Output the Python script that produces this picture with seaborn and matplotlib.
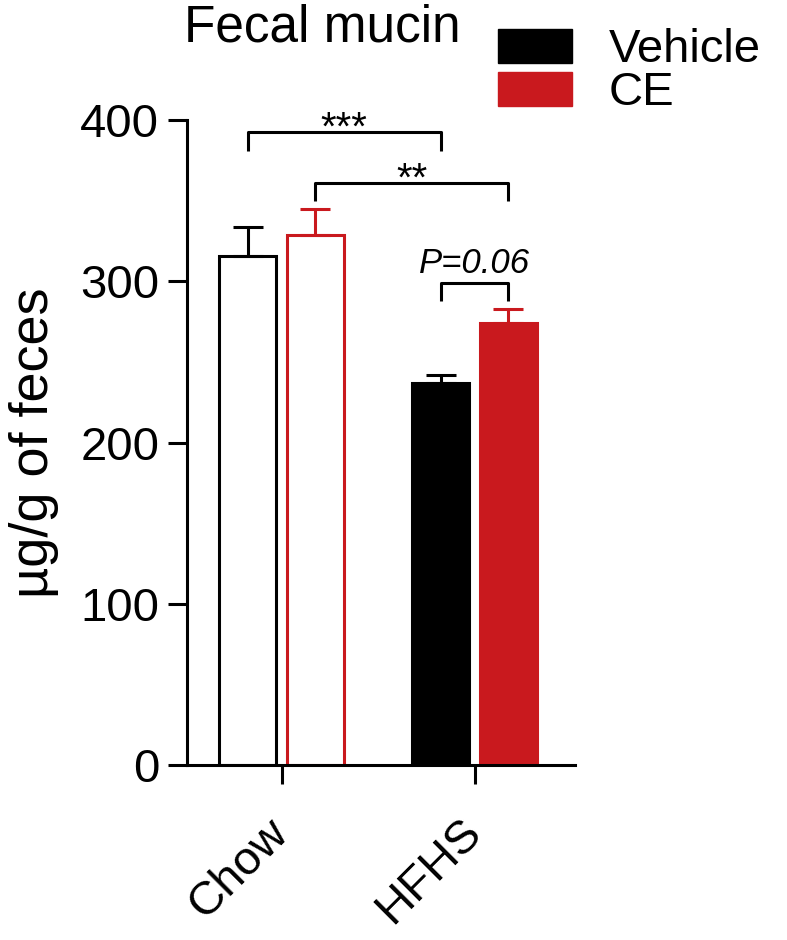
"""
Fecal mucin - Chow vs HFHS, Vehicle vs CE
"""

import numpy as np
import pandas as pd
import matplotlib.pyplot as plt
import seaborn as sns
from matplotlib.patches import Patch

# Data
diets = ["Chow", "Chow", "HFHS", "HFHS"]
treatments = ["Vehicle", "CE", "Vehicle", "CE"]
mucin_mean = [316, 329, 237, 274]
mucin_sem = [18, 16, 5, 9]

diet_order = ["Chow", "HFHS"]
treat_order = ["Vehicle", "CE"]
y_ticks = [0, 100, 200, 300, 400]

# significance brackets: (diet1, treat1, diet2, treat2, leg end, bracket height, label)
brackets = [
    ("Chow", "Vehicle", "HFHS", "Vehicle", 381, 392.6, "***"),
    ("Chow", "CE", "HFHS", "CE", 350, 361, "**"),
    ("HFHS", "Vehicle", "HFHS", "CE", 288, 299, "P=0.06"),
]

RED = "#C9191E"
colors = {"Vehicle": "black", "CE": RED}
LW = 2.2

sns.set_style("ticks")
plt.rcParams["font.family"] = ["Liberation Sans", "DejaVu Sans"]
plt.rcParams.update({"text.color": "black", "axes.labelcolor": "black",
                     "xtick.color": "black", "ytick.color": "black",
                     "axes.edgecolor": "black"})

df = pd.DataFrame({"diet": diets, "treatment": treatments,
                   "mucin": mucin_mean, "err": mucin_sem})

fig = plt.figure(figsize=(7.87, 9.4), dpi=100)
ax = fig.add_axes([0.2376, 0.1862, 0.493, 0.686])

sns.barplot(data=df, x="diet", y="mucin", hue="treatment",
            order=diet_order, hue_order=treat_order, palette=colors,
            saturation=1, width=0.7, gap=0.16, errorbar=None, legend=False,
            linewidth=LW, ax=ax)

# restyle bars: chow bars are open, HFHS filled; add upward SEM bars
centers = {}
for treat, cont in zip(treat_order, ax.containers):
    for diet, bar in zip(diet_order, cont):
        c = colors[treat]
        bar.set_edgecolor(c)
        bar.set_linewidth(LW)
        if diet == "Chow":
            bar.set_facecolor("white")
        else:
            bar.set_facecolor(c)
        xc = bar.get_x() + bar.get_width() / 2
        centers[(diet, treat)] = xc
        row = df[(df["diet"] == diet) & (df["treatment"] == treat)].iloc[0]
        ax.errorbar([xc], [row["mucin"]], yerr=[[0], [row["err"]]], fmt="none",
                    ecolor=c, elinewidth=LW, capsize=11, capthick=LW, zorder=3)

for d1, t1, d2, t2, y_leg, y_top, lab in brackets:
    x1, x2 = centers[(d1, t1)], centers[(d2, t2)]
    ax.plot([x1, x1, x2, x2], [y_leg, y_top, y_top, y_leg], color="black",
            lw=LW, clip_on=False, solid_capstyle="butt")
    if lab.startswith("P"):
        ax.text((x1 + x2) / 2, y_top + 6, lab, ha="center", va="baseline",
                fontsize=25, style="italic")
    else:
        ax.text((x1 + x2) / 2, y_top - 5, lab, ha="center", va="baseline",
                fontsize=29)

ax.set_xlim(-0.49, 1.52)
ax.set_ylim(0, 400)
ax.set_yticks(y_ticks)
sns.despine(ax=ax)
for s in ["left", "bottom"]:
    ax.spines[s].set_linewidth(LW)

ax.tick_params(axis="both", length=14, width=LW, labelsize=34, color="black")
ax.tick_params(axis="y", pad=6)
ax.tick_params(axis="x", pad=30)
ax.set_xticks(range(len(diet_order)))
ax.set_xticklabels(diet_order, rotation=45, ha="right", va="center",
                   rotation_mode="anchor")
ax.set_xlabel("")
ax.set_ylabel("µg/g of feces", fontsize=39)
ax.yaxis.set_label_coords(-0.33, 0.5)

fig.text(0.409, 0.956, "Fecal mucin", ha="center", va="baseline", fontsize=37)

handles = [Patch(facecolor=colors[t], edgecolor=colors[t]) for t in treat_order]
fig.legend(handles, treat_order, loc="upper left", bbox_to_anchor=(0.633, 0.970),
           frameon=False, fontsize=34, handlelength=1.57, handleheight=0.74,
           handletextpad=0.77, labelspacing=-0.02, borderpad=0, borderaxespad=0)

fig.savefig("out.png", dpi=100)
